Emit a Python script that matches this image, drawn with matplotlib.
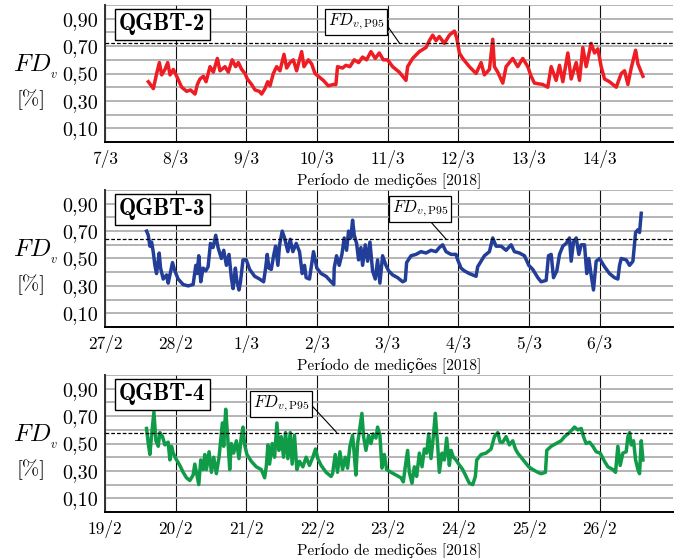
#Fator de demanda FD_v de tres quadros (QGBT-2, QGBT-3, QGBT-4)
#durante o periodo de medicoes de 2018

import matplotlib.pyplot as plt
import numpy as np

plt.rcParams['font.family'] = ['cmr10', 'DejaVu Serif']
plt.rcParams['mathtext.fontset'] = 'cm'
plt.rcParams['axes.formatter.use_mathtext'] = True

#Dados (dias desde o inicio do eixo, FD_v)
dias_q2 = [0.613, 0.684, 0.731, 0.769, 0.802, 0.849, 0.887, 0.92, 0.967, 1.014,
           1.085, 1.156, 1.21, 1.274, 1.307, 1.344, 1.392, 1.43, 1.486, 1.533,
           1.59, 1.627, 1.698, 1.745, 1.80, 1.849, 1.887, 1.934, 1.981, 2.014,
           2.075, 2.123, 2.184, 2.217, 2.264, 2.302, 2.335, 2.382, 2.429, 2.476,
           2.533, 2.571, 2.618, 2.665, 2.712, 2.783, 2.816, 2.877, 2.925, 2.972,
           3.019, 3.09, 3.16, 3.231, 3.268, 3.291, 3.362, 3.41, 3.466, 3.528,
           3.589, 3.646, 3.702, 3.764, 3.825, 3.882, 3.939, 4.0, 4.071, 4.165,
           4.26, 4.283, 4.354, 4.449, 4.543, 4.59, 4.638, 4.685, 4.732, 4.803,
           4.874, 4.945, 4.978, 5.016, 5.063, 5.157, 5.252, 5.323, 5.37, 5.441,
           5.488, 5.512, 5.559, 5.63, 5.677, 5.771, 5.842, 5.913, 5.984, 6.031,
           6.078, 6.196, 6.267, 6.315, 6.385, 6.433, 6.48, 6.551, 6.598, 6.669,
           6.716, 6.763, 6.81, 6.881, 6.929, 6.976, 7.023, 7.07, 7.141, 7.236,
           7.307, 7.354, 7.401, 7.448, 7.51, 7.543, 7.59, 7.614]
fd_q2 = [0.44, 0.39, 0.50, 0.58, 0.49, 0.53, 0.58, 0.49, 0.53, 0.48,
         0.40, 0.37, 0.38, 0.35, 0.42, 0.46, 0.48, 0.44, 0.55, 0.51,
         0.61, 0.52, 0.55, 0.51, 0.60, 0.55, 0.58, 0.53, 0.50, 0.46,
         0.42, 0.38, 0.37, 0.35, 0.39, 0.44, 0.41, 0.50, 0.55, 0.52,
         0.64, 0.54, 0.58, 0.60, 0.52, 0.66, 0.55, 0.60, 0.57, 0.50,
         0.48, 0.45, 0.41, 0.42, 0.42, 0.55, 0.54, 0.56, 0.55, 0.60,
         0.58, 0.62, 0.60, 0.66, 0.61, 0.65, 0.60, 0.60, 0.55, 0.51,
         0.45, 0.55, 0.61, 0.66, 0.69, 0.74, 0.78, 0.74, 0.77, 0.72,
         0.78, 0.81, 0.76, 0.65, 0.61, 0.55, 0.50, 0.58, 0.49, 0.53,
         0.75, 0.55, 0.51, 0.43, 0.55, 0.61, 0.55, 0.61, 0.55, 0.48,
         0.43, 0.42, 0.40, 0.55, 0.45, 0.56, 0.44, 0.65, 0.46, 0.58,
         0.45, 0.69, 0.55, 0.72, 0.65, 0.68, 0.55, 0.46, 0.44, 0.40,
         0.50, 0.52, 0.42, 0.54, 0.67, 0.57, 0.51, 0.48]

dias_q3 = [0.588, 0.612, 0.635, 0.659, 0.682, 0.706, 0.729, 0.767, 0.786, 0.824,
           0.871, 0.894, 0.918, 0.955, 0.988, 1.035, 1.106, 1.176, 1.247, 1.285,
           1.304, 1.327, 1.355, 1.388, 1.426, 1.459, 1.492, 1.529, 1.567, 1.60,
           1.647, 1.68, 1.718, 1.755, 1.788, 1.812, 1.845, 1.868, 1.896, 1.915,
           1.953, 2.0, 2.047, 2.118, 2.188, 2.245, 2.273, 2.296, 2.32, 2.353,
           2.386, 2.414, 2.447, 2.471, 2.508, 2.541, 2.588, 2.621, 2.659, 2.706,
           2.753, 2.791, 2.824, 2.847, 2.894, 2.951, 2.998, 3.059, 3.129, 3.20,
           3.238, 3.244, 3.277, 3.315, 3.353, 3.386, 3.419, 3.447, 3.48, 3.504,
           3.528, 3.561, 3.589, 3.622, 3.646, 3.684, 3.717, 3.75, 3.787, 3.825,
           3.858, 3.891, 3.929, 3.976, 4.014, 4.071, 4.142, 4.213, 4.25, 4.269,
           4.331, 4.402, 4.472, 4.543, 4.614, 4.685, 4.732, 4.779, 4.827, 4.897,
           4.968, 4.992, 5.039, 5.086, 5.157, 5.252, 5.275, 5.323, 5.37, 5.441,
           5.488, 5.535, 5.606, 5.677, 5.748, 5.795, 5.866, 5.937, 5.998, 6.055,
           6.126, 6.173, 6.244, 6.277, 6.315, 6.348, 6.395, 6.433, 6.48, 6.527,
           6.574, 6.598, 6.631, 6.669, 6.707, 6.74, 6.787, 6.819, 6.848, 6.881,
           6.914, 6.952, 7.0, 7.07, 7.141, 7.212, 7.259, 7.283, 7.307, 7.377,
           7.425, 7.472, 7.51, 7.543, 7.566, 7.59]
fd_q3 = [0.70, 0.67, 0.59, 0.62, 0.55, 0.45, 0.39, 0.54, 0.43, 0.35,
         0.38, 0.32, 0.38, 0.47, 0.41, 0.35, 0.31, 0.30, 0.31, 0.45,
         0.39, 0.52, 0.33, 0.43, 0.41, 0.44, 0.61, 0.58, 0.67, 0.58,
         0.50, 0.56, 0.45, 0.53, 0.36, 0.28, 0.43, 0.33, 0.27, 0.32,
         0.49, 0.49, 0.42, 0.37, 0.35, 0.33, 0.43, 0.53, 0.43, 0.42,
         0.52, 0.59, 0.45, 0.60, 0.70, 0.65, 0.55, 0.64, 0.55, 0.61,
         0.55, 0.39, 0.45, 0.36, 0.35, 0.55, 0.43, 0.39, 0.37, 0.33,
         0.31, 0.43, 0.52, 0.45, 0.53, 0.65, 0.56, 0.70, 0.65, 0.78,
         0.67, 0.61, 0.49, 0.58, 0.45, 0.60, 0.48, 0.62, 0.41, 0.35,
         0.49, 0.32, 0.52, 0.45, 0.41, 0.38, 0.36, 0.33, 0.34, 0.47,
         0.52, 0.53, 0.55, 0.54, 0.56, 0.55, 0.58, 0.60, 0.55, 0.53,
         0.53, 0.49, 0.43, 0.41, 0.39, 0.37, 0.44, 0.48, 0.52, 0.55,
         0.65, 0.59, 0.59, 0.56, 0.60, 0.55, 0.54, 0.52, 0.45, 0.42,
         0.36, 0.33, 0.34, 0.52, 0.53, 0.36, 0.41, 0.53, 0.59, 0.61,
         0.65, 0.48, 0.62, 0.65, 0.53, 0.60, 0.60, 0.39, 0.50, 0.38,
         0.27, 0.48, 0.50, 0.44, 0.39, 0.36, 0.35, 0.45, 0.50, 0.49,
         0.45, 0.48, 0.69, 0.71, 0.69, 0.83]

dias_q4 = [0.588, 0.612, 0.635, 0.659, 0.692, 0.72, 0.753, 0.776, 0.814, 0.847,
           0.894, 0.918, 0.941, 0.965, 1.002, 1.059, 1.106, 1.153, 1.20, 1.247,
           1.271, 1.304, 1.327, 1.355, 1.388, 1.412, 1.435, 1.473, 1.506, 1.539,
           1.576, 1.614, 1.633, 1.661, 1.68, 1.708, 1.736, 1.765, 1.788, 1.821,
           1.859, 1.896, 1.929, 1.953, 1.976, 2.009, 2.071, 2.141, 2.212, 2.259,
           2.282, 2.306, 2.329, 2.367, 2.40, 2.433, 2.461, 2.494, 2.527, 2.555,
           2.588, 2.621, 2.649, 2.682, 2.715, 2.753, 2.80, 2.847, 2.894, 2.941,
           2.979, 3.012, 3.059, 3.129, 3.20, 3.221, 3.258, 3.291, 3.325, 3.362,
           3.40, 3.433, 3.466, 3.504, 3.528, 3.551, 3.575, 3.598, 3.636, 3.66,
           3.693, 3.731, 3.764, 3.797, 3.835, 3.858, 3.891, 3.92, 3.953, 3.986,
           4.047, 4.118, 4.189, 4.222, 4.25, 4.283, 4.307, 4.345, 4.378, 4.411,
           4.449, 4.487, 4.52, 4.553, 4.581, 4.614, 4.647, 4.675, 4.709, 4.732,
           4.77, 4.803, 4.836, 4.874, 4.897, 4.931, 4.968, 5.006, 5.063, 5.11,
           5.157, 5.205, 5.242, 5.261, 5.323, 5.393, 5.464, 5.512, 5.559, 5.592,
           5.63, 5.677, 5.724, 5.771, 5.809, 5.842, 5.889, 5.937, 5.998, 6.055,
           6.126, 6.173, 6.234, 6.253, 6.315, 6.385, 6.456, 6.504, 6.574, 6.645,
           6.692, 6.74, 6.773, 6.81, 6.858, 6.905, 6.952, 7.009, 7.07, 7.118,
           7.188, 7.226, 7.259, 7.292, 7.33, 7.377, 7.401, 7.425, 7.448, 7.481,
           7.51, 7.543, 7.566, 7.59, 7.614]
fd_q4 = [0.61, 0.50, 0.42, 0.56, 0.73, 0.52, 0.48, 0.58, 0.55, 0.49,
         0.51, 0.38, 0.48, 0.43, 0.39, 0.34, 0.29, 0.25, 0.23, 0.27,
         0.35, 0.26, 0.20, 0.38, 0.31, 0.42, 0.31, 0.44, 0.29, 0.40,
         0.28, 0.40, 0.50, 0.65, 0.48, 0.75, 0.55, 0.31, 0.50, 0.43,
         0.52, 0.39, 0.55, 0.62, 0.49, 0.42, 0.37, 0.33, 0.31, 0.25,
         0.33, 0.49, 0.35, 0.50, 0.40, 0.65, 0.45, 0.55, 0.40, 0.58,
         0.39, 0.58, 0.35, 0.56, 0.31, 0.37, 0.33, 0.40, 0.34, 0.40,
         0.46, 0.39, 0.34, 0.29, 0.26, 0.28, 0.42, 0.29, 0.44, 0.31,
         0.40, 0.32, 0.48, 0.56, 0.42, 0.27, 0.50, 0.58, 0.72, 0.55,
         0.45, 0.56, 0.50, 0.57, 0.54, 0.62, 0.56, 0.32, 0.42, 0.31,
         0.29, 0.27, 0.25, 0.22, 0.33, 0.45, 0.29, 0.21, 0.33, 0.26,
         0.43, 0.33, 0.46, 0.43, 0.57, 0.39, 0.55, 0.72, 0.48, 0.29,
         0.43, 0.38, 0.54, 0.34, 0.45, 0.40, 0.38, 0.35, 0.31, 0.26,
         0.21, 0.20, 0.26, 0.38, 0.42, 0.43, 0.46, 0.55, 0.58, 0.51,
         0.51, 0.55, 0.49, 0.52, 0.46, 0.43, 0.40, 0.37, 0.33, 0.31,
         0.29, 0.28, 0.29, 0.45, 0.48, 0.50, 0.52, 0.55, 0.58, 0.62,
         0.60, 0.61, 0.55, 0.50, 0.51, 0.48, 0.44, 0.43, 0.37, 0.33,
         0.31, 0.29, 0.48, 0.34, 0.43, 0.44, 0.55, 0.58, 0.49, 0.52,
         0.38, 0.31, 0.28, 0.52, 0.38]

quadros = ['QGBT-2', 'QGBT-3', 'QGBT-4']
p95 = [0.72, 0.64, 0.58]
datas = [['7/3', '8/3', '9/3', '10/3', '11/3', '12/3', '13/3', '14/3'],
         ['27/2', '28/2', '1/3', '2/3', '3/3', '4/3', '5/3', '6/3'],
         ['19/2', '20/2', '21/2', '22/2', '23/2', '24/2', '25/2', '26/2']]
series = [(dias_q2, fd_q2), (dias_q3, fd_q3), (dias_q4, fd_q4)]
cores = ['#ee1d23', '#233e98', '#0f9b48']

#posicao da caixa FD_v,P95 e do ponto na linha tracejada
caixa_txt = [(3.55, 0.875), (4.46, 0.86), (2.49, 0.79)]
caixa_pt = [(4.17, 0.72), (4.83, 0.64), (3.28, 0.58)]
caixa_rel = [(1.0, 0.55), (0.65, 0.0), (1.0, 0.55)]

fig = plt.figure(figsize=(6.86, 5.58), dpi=100)
fundos = [0.7455, 0.414, 0.0824]

for i in range(3):
    ax = fig.add_axes([0.1531, fundos[i], 0.828, 0.2455])
    dias, fd = series[i]
    ax.plot(dias, fd, color=cores[i], lw=2.5, zorder=3)
    ax.axhline(p95[i], color='k', ls=(0, (3, 1.6)), lw=0.9, zorder=4)

    ax.set_xlim(0, 8.04)
    ax.set_ylim(0, 1.0)
    ax.set_xticks(range(8))
    ax.set_xticklabels(datas[i], fontsize=12.5)
    ax.set_yticks([0.1, 0.3, 0.5, 0.7, 0.9])
    ax.set_yticklabels(['0,10', '0,30', '0,50', '0,70', '0,90'], fontsize=14.5)
    ax.set_yticks([0.2, 0.4, 0.6, 0.8, 1.0], minor=True)
    ax.tick_params(axis='y', which='both', length=0, pad=5)
    ax.tick_params(axis='x', which='both', length=0, pad=6)
    ax.grid(axis='y', which='both', color='#a8a8a8', lw=1.2, zorder=1)
    ax.grid(axis='x', which='major', color='#111111', lw=0.8, zorder=2)

    ax.spines['top'].set_visible(False)
    ax.spines['right'].set_visible(False)
    ax.spines['left'].set_linewidth(1.4)
    ax.spines['bottom'].set_linewidth(1.4)
    ax.spines['left'].set_color('#333333')

    ax.set_xlabel('Período de medições [2018]', fontsize=11, labelpad=3)

    #rotulo do eixo y
    ax.text(-0.122, 0.55, r'$FD_{_{v}}$', transform=ax.transAxes, fontsize=18,
            ha='center', va='center')
    ax.text(-0.13, 0.31, '[%]', transform=ax.transAxes, fontsize=15,
            ha='center', va='center')

    #nome do quadro
    ax.text(0.025, 0.86, quadros[i], transform=ax.transAxes, fontsize=16.5,
            family='cmb10', ha='left', va='center', zorder=6,
            bbox=dict(boxstyle='square,pad=0.2', fc='white', ec='black', lw=1))

    ax.annotate(r'$FD_{v,\mathrm{P95}}$', xy=caixa_pt[i], xytext=caixa_txt[i],
                fontsize=12, ha='center', va='center', zorder=6,
                bbox=dict(boxstyle='square,pad=0.18', fc='white', ec='black', lw=0.9),
                arrowprops=dict(arrowstyle='-', color='k', lw=0.8,
                                relpos=caixa_rel[i], shrinkA=0, shrinkB=0))

fig.savefig('out.png', dpi=100)
